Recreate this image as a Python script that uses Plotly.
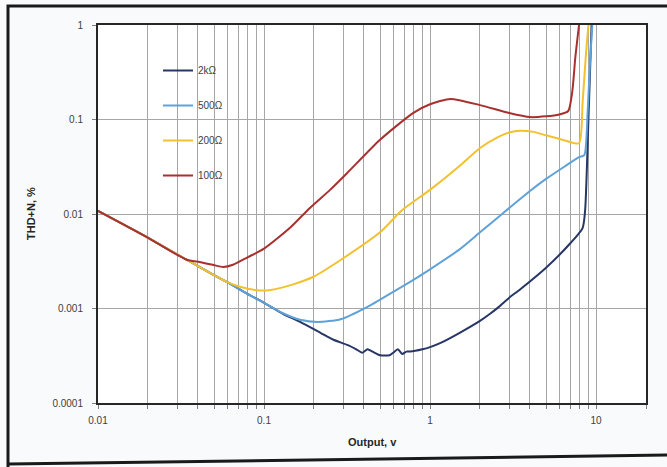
import plotly.graph_objects as go

# THD+N versus output level, one curve per load impedance
names = ["2kΩ", "500Ω", "200Ω", "100Ω"]
colors = ["#263766", "#5fa2d8", "#f2c12e", "#a8302f"]

x_2k = [0.01, 0.0197, 0.034, 0.049, 0.06, 0.08, 0.1, 0.13, 0.165, 0.22, 0.26, 0.32,
        0.36, 0.39, 0.42, 0.45, 0.5, 0.57, 0.6, 0.64, 0.68, 0.72, 0.76, 0.9, 1.0,
        1.15, 1.5, 2.0, 2.3, 2.6, 3.0, 3.5, 5.0, 7.0, 8.3, 8.6, 9.0, 9.4]
y_2k = [0.0108, 0.0057, 0.0033, 0.0023, 0.0019, 0.00142, 0.00115, 0.00088, 0.00072,
        0.00055, 0.00047, 0.00041, 0.00037, 0.00034, 0.00037, 0.00035, 0.00032,
        0.00032, 0.00034, 0.00037, 0.00033, 0.00035, 0.00035, 0.00037, 0.00039,
        0.00043, 0.00055, 0.00074, 0.00088, 0.00104, 0.0013, 0.0016, 0.0027, 0.0049,
        0.0071, 0.011, 0.1, 1.0]

x_500 = [0.01, 0.0197, 0.034, 0.049, 0.06, 0.08, 0.1, 0.13, 0.165, 0.21, 0.29, 0.42,
         0.6, 0.79, 1.0, 1.5, 2.0, 2.75, 4.0, 5.0, 6.5, 7.9, 8.5, 8.9, 9.2, 9.5]
y_500 = [0.0108, 0.0057, 0.0033, 0.0023, 0.0019, 0.00142, 0.00115, 0.00089, 0.00076,
         0.00072, 0.00077, 0.00104, 0.0015, 0.002, 0.0026, 0.0042, 0.0064, 0.0102,
         0.0175, 0.0235, 0.032, 0.04, 0.042, 0.12, 0.4, 1.0]

x_200 = [0.01, 0.0197, 0.034, 0.049, 0.06, 0.07, 0.08, 0.094, 0.11, 0.15, 0.2, 0.3,
         0.5, 0.68, 1.0, 1.5, 2.0, 2.6, 3.0, 3.5, 4.2, 5.0, 6.5, 7.9, 8.3, 8.7, 9.0]
y_200 = [0.0108, 0.0057, 0.0033, 0.0023, 0.0019, 0.00172, 0.00162, 0.00155, 0.00157,
         0.0018, 0.00218, 0.0034, 0.0064, 0.011, 0.018, 0.032, 0.05, 0.066, 0.073,
         0.076, 0.074, 0.068, 0.06, 0.056, 0.15, 0.5, 1.0]

x_100 = [0.01, 0.0197, 0.034, 0.041, 0.049, 0.057, 0.065, 0.08, 0.1, 0.144, 0.189,
         0.25, 0.316, 0.5, 0.79, 1.0, 1.33, 2.0, 3.0, 4.0, 5.0, 6.0, 6.8, 7.2, 7.5, 7.9]
y_100 = [0.0108, 0.0057, 0.0033, 0.0031, 0.0029, 0.00275, 0.0029, 0.0035, 0.0043,
         0.0072, 0.0116, 0.018, 0.027, 0.061, 0.117, 0.145, 0.165, 0.142, 0.117,
         0.106, 0.108, 0.113, 0.123, 0.2, 0.45, 1.0]

series_x = [x_2k, x_500, x_200, x_100]
series_y = [y_2k, y_500, y_200, y_100]

# x grid: every 1..9 multiple per decade, labels only on decades
x_grid = [m * 10 ** e for e in (-2, -1, 0, 1) for m in range(1, 10) if m * 10 ** e <= 20] + [20]
x_labels = {0.01: "0.01", 0.1: "0.1", 1: "1", 10: "10"}
x_text = [x_labels.get(round(v, 6), "") for v in x_grid]
y_ticks = [0.0001, 0.001, 0.01, 0.1, 1]
y_text = ["0.0001", "0.001", "0.01", "0.1", "1"]

W, H = 667, 467
L, R, T, B = 98, 646, 25, 403

def px(x):
    return (x - L) / (R - L)

def py(y):
    return (B - y) / (B - T)

fig = go.Figure()
for i, (xs, ys) in enumerate(zip(series_x, series_y)):
    fig.add_trace(go.Scatter(
        x=xs, y=ys, mode="lines", name=names[i], legendgroup=names[i],
        line=dict(color=colors[i], width=2, shape="spline", smoothing=0.6),
    ))

font = "Liberation Sans"
fig.update_layout(
    width=W, height=H,
    margin=dict(l=L, r=W - R, t=T, b=H - B),
    paper_bgcolor="#f9fafc",
    plot_bgcolor="#ffffff",
    font=dict(family=font, size=10, color="#404040"),
    showlegend=True,
    legend=dict(
        x=px(158), y=py(56), xanchor="left", yanchor="top",
        bgcolor="rgba(0,0,0,0)", font=dict(size=10, color="#404040"),
        tracegroupgap=16, traceorder="grouped", itemwidth=30,
    ),
    xaxis=dict(
        type="log", range=[-2, 1.30103], tickvals=x_grid, ticktext=x_text,
        showgrid=True, gridcolor="#a6a6a6", gridwidth=1,
        showline=True, linecolor="#262626", linewidth=2, mirror=True,
        ticks="outside", ticklen=4, tickcolor="#7f7f7f",
        ticklabelstandoff=3, zeroline=False,
    ),
    yaxis=dict(
        type="log", range=[-4, 0], tickvals=y_ticks, ticktext=y_text,
        showgrid=True, gridcolor="#a6a6a6", gridwidth=1,
        showline=True, linecolor="#262626", linewidth=2, mirror=True,
        ticks="outside", ticklen=4, tickcolor="#7f7f7f",
        ticklabelstandoff=7, zeroline=False,
    ),
    annotations=[
        dict(text="<b>THD+N, %</b>", x=px(31), y=py(214), xref="paper", yref="paper",
             xanchor="center", yanchor="middle",
             textangle=-90, showarrow=False, font=dict(size=11, color="#262626")),
        dict(text="<b>Output, v</b>", x=px(372), y=py(442), xref="paper", yref="paper",
             xanchor="center", yanchor="middle",
             showarrow=False, font=dict(size=11, color="#262626")),
    ],
    shapes=[
        dict(type="path", xref="paper", yref="paper",
             path=f"M {px(8)} {py(470)} L {px(8)} {py(6)} L {px(670)} {py(6)}",
             line=dict(color="#1a1a1a", width=3)),
        dict(type="line", xref="paper", yref="paper",
             x0=px(8), y0=py(464), x1=px(670), y1=py(455),
             line=dict(color="#1a1a1a", width=3)),
    ],
)

fig.write_html("out.html")
